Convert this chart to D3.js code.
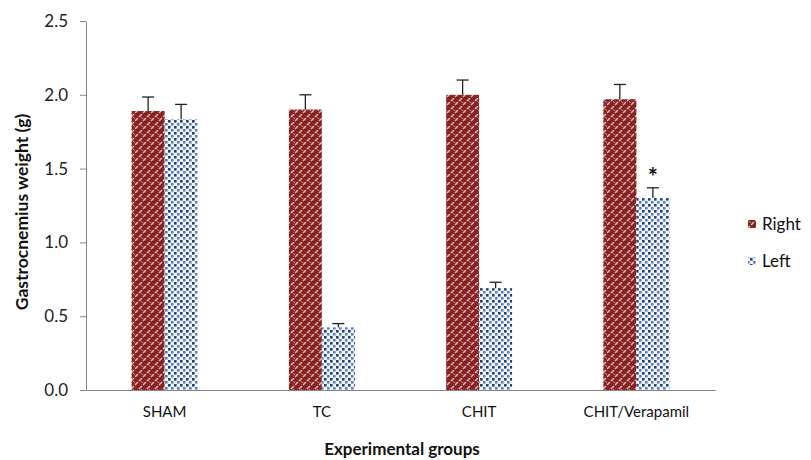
<!DOCTYPE html>
<html><head><meta charset="utf-8">
<script src="https://cdn.jsdelivr.net/npm/d3@7"></script>
<style>body{margin:0;background:#fff}text{font-family:Lato,"Open Sans",sans-serif}</style>
</head><body><svg id="c" width="811" height="460"></svg>
<script>
const categories = ["SHAM","TC","CHIT","CHIT/Verapamil"];
const series = ["Right","Left"];
const rightValues = [1.89, 1.90, 2.00, 1.97];
const rightErrors = [0.095, 0.10, 0.10, 0.10];
const leftValues = [1.835, 0.425, 0.69, 1.30];
const leftErrors = [0.10, 0.025, 0.04, 0.07];
const yTicks = [0, 0.5, 1.0, 1.5, 2.0, 2.5];
const significant = [null, null, null, "Left"];

const svg = d3.select("#c");
const defs = svg.append("defs");
// Right pattern: dark red with light diagonal brick weave
const pr = defs.append("pattern").attr("id","pR").attr("patternUnits","userSpaceOnUse").attr("width",8).attr("height",8);
pr.append("rect").attr("width",8).attr("height",8).attr("fill","#8a2424");
pr.append("path").attr("d","M0,8 L8,0 M-2,2 L2,-2 M6,10 L10,6").attr("stroke","#e6c4c4").attr("stroke-width",1.3);
pr.append("path").attr("d","M1.5,4.5 L3.5,6.5 M5.5,0.5 L7.5,2.5").attr("stroke","#8a2424").attr("stroke-width",1.6);
pr.append("path").attr("d","M5,5 L7,7").attr("stroke","#d8a8a8").attr("stroke-width",0.8);
// Left pattern: white with navy dots
const pl = defs.append("pattern").attr("id","pL").attr("patternUnits","userSpaceOnUse").attr("width",6).attr("height",6);
pl.append("rect").attr("width",6).attr("height",6).attr("fill","#f2f6fb");
pl.append("rect").attr("x",0).attr("y",0).attr("width",2.6).attr("height",2.6).attr("fill","#1f3f78");
pl.append("rect").attr("x",3).attr("y",3).attr("width",2.6).attr("height",2.6).attr("fill","#5d80b6");

const x0 = 86, x1 = 715, yTop = 21, yBot = 390;
const x = d3.scaleBand().domain(categories).range([x0,x1]);
const xs = d3.scaleBand().domain(series).range([0,66]);
const y = d3.scaleLinear().domain([0,2.5]).range([yBot,yTop]);
const fill = {Right:"url(#pR)", Left:"url(#pL)"};

const yAxis = svg.append("g").attr("transform",`translate(${x0},0)`)
  .call(d3.axisLeft(y).tickValues(yTicks).tickFormat(d3.format(".1f")).tickSize(6).tickSizeOuter(0));
yAxis.select(".domain").attr("stroke","#868686");
yAxis.selectAll(".tick line").attr("stroke","#868686");
yAxis.selectAll(".tick text").attr("font-size",17).attr("fill","#222").attr("x",-18);

const xAxis = svg.append("g").attr("transform",`translate(0,${yBot})`)
  .call(d3.axisBottom(x).tickSize(0).tickSizeOuter(0));
xAxis.select(".domain").attr("stroke","#868686");
xAxis.selectAll(".tick text").attr("font-size",15).attr("fill","#111").attr("dy","1.6em");

const data = [];
categories.forEach((c,i)=>{
  data.push({c, s:"Right", v:rightValues[i], e:rightErrors[i]});
  data.push({c, s:"Left", v:leftValues[i], e:leftErrors[i]});
});
const g = svg.append("g");
data.forEach(d=>{
  const bx = x(d.c) + x.bandwidth()/2 - 33 + xs(d.s);
  g.append("rect").attr("x",bx).attr("y",y(d.v)).attr("width",xs.bandwidth()).attr("height",y(0)-y(d.v))
    .attr("fill",fill[d.s]);
  const cx = bx + xs.bandwidth()/2;
  g.append("line").attr("x1",cx).attr("x2",cx).attr("y1",y(d.v)).attr("y2",y(d.v+d.e)).attr("stroke","#222").attr("stroke-width",1.3);
  g.append("line").attr("x1",cx-6).attr("x2",cx+6).attr("y1",y(d.v+d.e)).attr("y2",y(d.v+d.e)).attr("stroke","#222").attr("stroke-width",1.3);
});
categories.forEach((c,i)=>{
  if(significant[i]){
    const s = significant[i];
    const v = s==="Left"?leftValues[i]+leftErrors[i]:rightValues[i]+rightErrors[i];
    svg.append("text").attr("x",x(c)+x.bandwidth()/2-33+xs(s)+xs.bandwidth()/2).attr("y",y(v)-2)
      .attr("text-anchor","middle").attr("font-size",24).attr("font-weight","bold").attr("fill","#111").text("*");
  }
});

svg.append("text").attr("transform","translate(28,212) rotate(-90)").attr("text-anchor","middle")
  .attr("font-size",17.5).attr("font-weight","bold").attr("fill","#111").text("Gastrocnemius weight (g)");
svg.append("text").attr("x",402).attr("y",455).attr("text-anchor","middle")
  .attr("font-size",17).attr("font-weight","bold").attr("fill","#111").text("Experimental groups");

const leg = svg.append("g");
series.forEach((s,i)=>{
  const ly = 224 + i*37;
  leg.append("rect").attr("x",748).attr("y",ly-4).attr("width",8).attr("height",8).attr("fill",fill[s]);
  leg.append("text").attr("x",762).attr("y",ly+6).attr("font-size",17).attr("fill","#111").text(s);
});
</script></body></html>
